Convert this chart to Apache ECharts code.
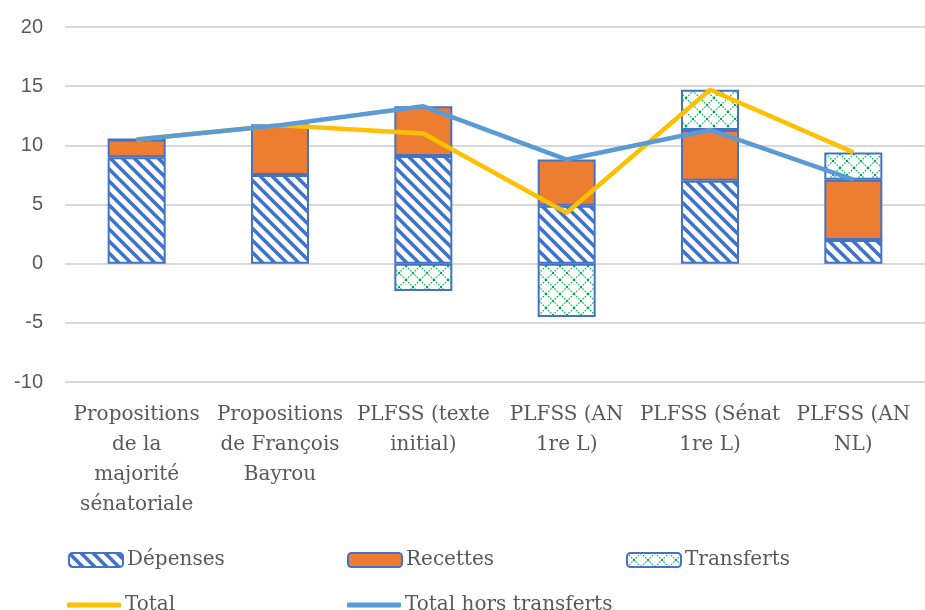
<!DOCTYPE html>
<html>
<head>
<meta charset="utf-8">
<script src="https://cdn.jsdelivr.net/npm/echarts@6/dist/echarts.min.js"></script>
<style>
  html, body { margin: 0; padding: 0; background: #fff; }
  #chart { width: 925px; height: 610px; }
</style>
</head>
<body>
<div id="chart"></div>
<script>
// Scenarios compared (x axis)
const categories = [
  'Propositions\nde la\nmajorité\nsénatoriale',
  'Propositions\nde François\nBayrou',
  'PLFSS (texte\ninitial)',
  'PLFSS (AN\n1re L)',
  'PLFSS (Sénat\n1re L)',
  'PLFSS (AN\nNL)'
];

// Stacked components
const depenses   = [9.0, 7.5, 9.1, 4.9, 7.0, 2.0];
const recettes   = [1.5, 4.2, 4.2, 3.9, 4.3, 5.1];
const transferts = [0, 0, -2.3, -4.5, 3.4, 2.3];

// Totals
const total           = [10.5, 11.7, 11.0, 4.3, 14.7, 9.4];
const totalHorsTransf = [10.5, 11.7, 13.3, 8.8, 11.3, 7.1];

// Axis ticks
const yMin = -10, yMax = 20, yStep = 5;

const FONT = '"DejaVu Serif", serif';
const NUM_FONT = '"Liberation Sans", Arial, sans-serif';
const TXT = '#595959';
const BLUE_EDGE = '#4472C4';

// Diagonal stripe fill ("\" direction)
function stripeCanvas() {
  const s = 12;
  const c = document.createElement('canvas');
  c.width = s; c.height = s;
  const g = c.getContext('2d');
  g.fillStyle = '#ffffff';
  g.fillRect(0, 0, s, s);
  g.strokeStyle = BLUE_EDGE;
  g.lineWidth = 3.6;
  g.lineCap = 'square';
  for (const o of [-s, 0, s]) {
    g.beginPath();
    g.moveTo(o, 0);
    g.lineTo(o + s, s);
    g.stroke();
  }
  return c;
}

// Dotted diamond lattice fill
function latticeCanvas() {
  const s = 14;
  const c = document.createElement('canvas');
  c.width = s; c.height = s;
  const g = c.getContext('2d');
  g.fillStyle = '#ffffff';
  g.fillRect(0, 0, s, s);
  g.strokeStyle = '#00B050';
  g.lineWidth = 1.1;
  g.setLineDash([1.6, 1.4]);
  g.beginPath();
  g.moveTo(0, 0); g.lineTo(s, s);
  g.moveTo(s, 0); g.lineTo(0, s);
  g.stroke();
  g.setLineDash([]);
  g.fillStyle = '#00B050';
  const d = 2.2;
  g.fillRect(s / 2 - d / 2, s / 2 - d / 2, d, d);
  for (const [x, y] of [[0, 0], [s, 0], [0, s], [s, s]]) {
    g.fillRect(x - d / 2, y - d / 2, d, d);
  }
  return c;
}

const stripeFill = { image: stripeCanvas(), repeat: 'repeat' };
const latticeFill = { image: latticeCanvas(), repeat: 'repeat' };

const chart = echarts.init(document.getElementById('chart'), null, { renderer: 'canvas' });

const legendText = { fontFamily: FONT, fontSize: 20, color: TXT };
function legendAt(name, left, top, opts) {
  return Object.assign({
    data: [name], left: left, top: top,
    itemWidth: 54, itemHeight: 14, itemGap: 4,
    textStyle: Object.assign({ padding: [0, 0, 0, -1] }, legendText),
    selectedMode: false
  }, opts || {});
}

chart.setOption({
  animation: false,
  backgroundColor: '#ffffff',
  grid: { left: 65, right: 0, top: 27, bottom: 228, containLabel: false, outerBoundsMode: 'none' },
  legend: [
    legendAt('Dépenses', 63, 545),
    legendAt('Recettes', 342, 545),
    legendAt('Transferts', 621, 545),
    legendAt('Total', 62, 590, { icon: 'roundRect', itemHeight: 5 }),
    legendAt('Total hors transferts', 342, 590, { icon: 'roundRect', itemHeight: 5 })
  ],
  xAxis: {
    type: 'category',
    data: categories,
    position: 'bottom',
    axisLine: { show: false, onZero: false },
    axisTick: { show: false },
    axisLabel: {
      interval: 0,
      margin: 18,
      fontFamily: FONT, fontSize: 20, color: TXT,
      lineHeight: 30,
      verticalAlign: 'top'
    }
  },
  yAxis: {
    type: 'value',
    min: yMin, max: yMax, interval: yStep,
    axisLine: { show: false },
    axisTick: { show: false },
    splitLine: { lineStyle: { color: '#D9D9D9', width: 2 } },
    axisLabel: { fontFamily: NUM_FONT, fontSize: 20, color: TXT, margin: 22 }
  },
  series: [
    {
      name: 'Dépenses', type: 'bar', stack: 'tot', barWidth: 58,
      data: depenses,
      itemStyle: { color: stripeFill, borderColor: BLUE_EDGE, borderWidth: 2 }
    },
    {
      name: 'Recettes', type: 'bar', stack: 'tot', barWidth: 58,
      data: recettes,
      itemStyle: { color: '#ED7D31', borderColor: BLUE_EDGE, borderWidth: 2 }
    },
    {
      name: 'Transferts', type: 'bar', stack: 'tot', barWidth: 58,
      data: transferts,
      itemStyle: { color: latticeFill, borderColor: BLUE_EDGE, borderWidth: 2 }
    },
    {
      name: 'Total', type: 'line', data: total,
      symbol: 'none', z: 5,
      itemStyle: { color: '#FFC000' },
      lineStyle: { color: '#FFC000', width: 4.5 }
    },
    {
      name: 'Total hors transferts', type: 'line', data: totalHorsTransf,
      symbol: 'none', z: 6,
      itemStyle: { color: '#5B9BD5' },
      lineStyle: { color: '#5B9BD5', width: 4.5 }
    }
  ]
});
</script>
</body>
</html>
